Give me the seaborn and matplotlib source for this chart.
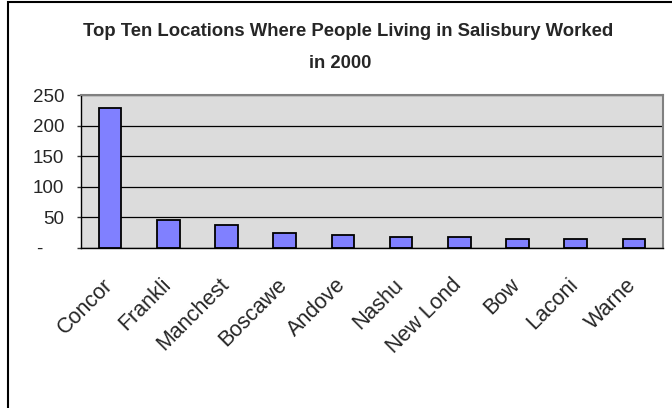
"""
Top ten work locations of Salisbury residents, 2000 (Excel-style bar chart)
"""
import matplotlib
matplotlib.use('Agg')
import matplotlib.pyplot as plt
import numpy as np
import seaborn as sns
from matplotlib.patches import Rectangle
from matplotlib.transforms import ScaledTranslation

# data
locations = ['Concord', 'Franklin', 'Manchester', 'Boscawen', 'Andover',
             'Nashua', 'New London', 'Bow', 'Laconia', 'Warner']
# labels as they show up (cut off) on the original chart
shown_labels = ['Concor', 'Frankli', 'Manchest', 'Boscawe', 'Andove',
                'Nashu', 'New Lond', 'Bow', 'Laconi', 'Warne']
workers = [228, 45, 38, 25, 21, 18, 18, 15, 15, 15]
y_ticks = [0, 50, 100, 150, 200, 250]
y_ticklabels = ['-    ', '50', '100', '150', '200', '250']

sns.set_style('white')
plt.rcParams['font.family'] = ['Liberation Sans', 'DejaVu Sans']

W, H = 672, 408
fig = plt.figure(figsize=(W / 100, H / 100), dpi=100)
ax = fig.add_axes([81 / W, 1 - 248 / H, (663 - 81) / W, (248 - 95) / H])
ax.set_facecolor('#DCDCDC')

sns.barplot(x=locations, y=workers, color='#8080FF', saturation=1,
            edgecolor='black', linewidth=1.3, width=0.39, ax=ax)

ax.set_xlim(-0.5, 9.5)
ax.set_ylim(0, 250)
ax.set_yticks(y_ticks)
ax.set_yticklabels(y_ticklabels, fontsize=13.5)
ax.set_xticks(range(len(locations)))
ax.set_xticklabels(shown_labels, fontsize=15.5, rotation=45,
                   rotation_mode='anchor', ha='right', va='top')
ax.set_xticks(np.arange(-0.5, len(locations), 1), minor=True)
ax.tick_params(axis='x', which='major', length=0, pad=19)
ax.tick_params(axis='x', which='minor', length=4, width=1, color='#333333')
ax.tick_params(axis='y', length=3, width=1, color='#333333', pad=9, left=True)
# nudge the slanted labels left so their ends sit on the category centres
shift = ScaledTranslation(-0.08, 0, fig.dpi_scale_trans)
for lbl in ax.get_xticklabels():
    lbl.set_transform(lbl.get_transform() + shift)
ax.set_xlabel('')
ax.set_ylabel('')

ax.yaxis.grid(True, color='black', linewidth=0.9)
ax.set_axisbelow(True)
for side in ['top', 'right']:
    ax.spines[side].set_color('#808080')
    ax.spines[side].set_linewidth(1.5)
for side in ['left', 'bottom']:
    ax.spines[side].set_color('black')
    ax.spines[side].set_linewidth(1)

fig.text(348 / W, 1 - 31 / H, 'Top Ten Locations Where People Living in Salisbury Worked',
         ha='center', va='center', fontsize=13.3, fontweight='bold')
fig.text(340 / W, 1 - 63 / H, 'in 2000',
         ha='center', va='center', fontsize=13.3, fontweight='bold')

# chart border
fig.patches.append(Rectangle((8 / W, -0.05), 1.0, 1.05 - 2.5 / H, transform=fig.transFigure,
                             fill=False, edgecolor='black', linewidth=1.5))

fig.savefig('out.png', dpi=100)
